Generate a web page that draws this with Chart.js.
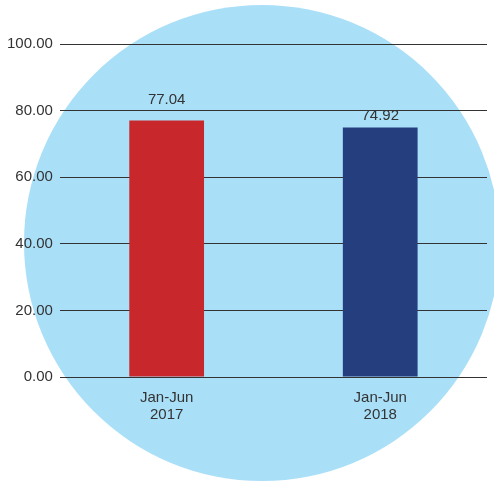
<!DOCTYPE html>
<html><head><meta charset="utf-8">
<script src="https://cdn.jsdelivr.net/npm/chart.js@4/dist/chart.umd.min.js"></script>
<style>html,body{margin:0;padding:0;background:#fff}#wrap{width:494px;height:481px}</style>
</head><body><div id="wrap"><canvas id="c" width="494" height="481"></canvas></div>
<script>
const categories = [["Jan-Jun","2017"],["Jan-Jun","2018"]];
const values = [77.04, 74.92];
const barColors = ["#C8282C","#253E7E"];
const yTicks = [0,20,40,60,80,100];

const FONT = '"Liberation Sans", Arial, sans-serif';
const circlePlugin = {
  id:'circle',
  beforeDraw(chart){
    const ctx = chart.ctx;
    ctx.save();
    ctx.fillStyle = '#AADFF8';
    ctx.beginPath();
    ctx.arc(262,243,238,0,Math.PI*2);
    ctx.fill();
    ctx.restore();
  }
};
const labelPlugin = {
  id:'labels',
  afterDatasetsDraw(chart){
    const ctx = chart.ctx;
    const meta = chart.getDatasetMeta(0);
    const ys = chart.scales.y;
    const gridPx = yTicks.map(v=>ys.getPixelForValue(v));
    ctx.save();
    ctx.font = '15px ' + FONT;
    ctx.fillStyle = '#333';
    ctx.textAlign = 'center';
    ctx.textBaseline = 'bottom';
    meta.data.forEach((el,i)=>{
      let bottom = el.y - 4;
      const top = bottom - 12;
      gridPx.forEach(g=>{ if (g > top + 2 && g < bottom) bottom = g - 3; });
      ctx.fillText(values[i].toFixed(2), el.x, bottom);
    });
    ctx.restore();
  }
};
new Chart(document.getElementById('c'),{
  type:'bar',
  data:{labels:categories,datasets:[{data:values,backgroundColor:barColors,categoryPercentage:1,barPercentage:0.35}]},
  options:{
    responsive:false,animation:false,
    layout:{padding:{left:0,right:7,top:44,bottom:53}},
    plugins:{legend:{display:false},tooltip:{enabled:false}},
    scales:{
      x:{grid:{display:false},border:{display:false},
        ticks:{color:'#333',font:{family:FONT,size:15,lineHeight:1.1},padding:5}},
      y:{min:0,max:100,afterBuildTicks(ax){ax.ticks=yTicks.map(v=>({value:v}));},
        border:{display:false},
        grid:{color:'#333',lineWidth:1,drawTicks:false},
        ticks:{color:'#333',font:{family:FONT,size:15},padding:7,
          callback:v=>Number(v).toFixed(2)}}
    }
  },
  plugins:[circlePlugin,labelPlugin]
});
</script></body></html>
